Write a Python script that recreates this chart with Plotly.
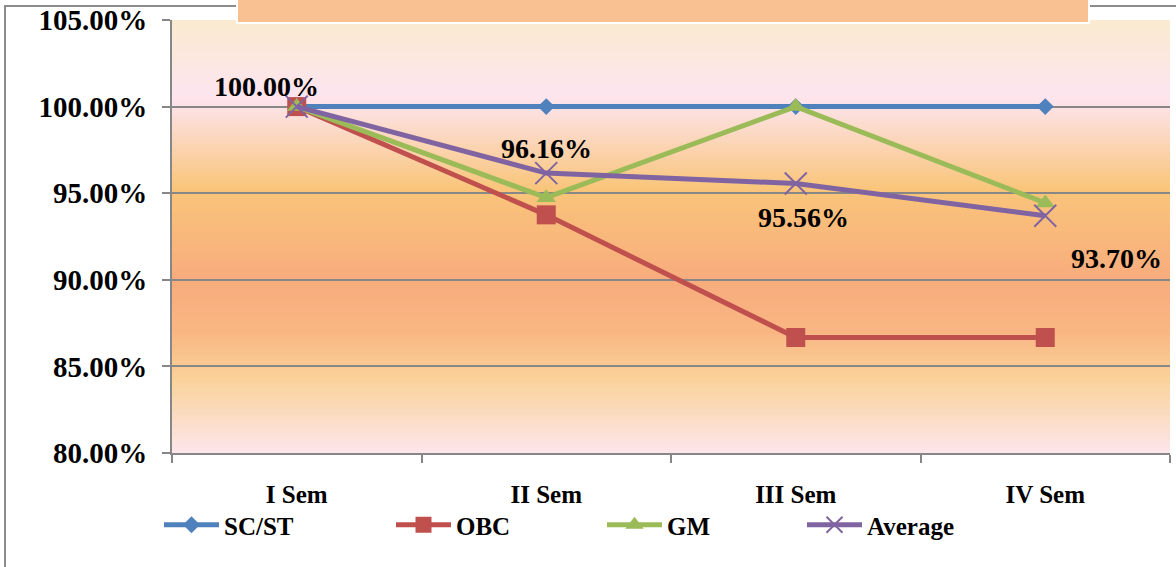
import plotly.graph_objects as go

# ---------------- data ----------------
categories = ["I Sem", "II Sem", "III Sem", "IV Sem"]
sc_st = [100.00, 100.00, 100.00, 100.00]
obc = [100.00, 93.75, 86.67, 86.67]
gm = [100.00, 94.74, 100.00, 94.44]
average = [100.00, 96.16, 95.56, 93.70]
y_ticks = [80, 85, 90, 95, 100, 105]
y_tick_labels = ["80.00%", "85.00%", "90.00%", "95.00%", "100.00%", "105.00%"]

# ---------------- style ----------------
FONT = "Liberation Serif"
GRID = "#878787"
W, H = 1176, 567
L, R, T, B = 172, 6, 20, 114
PW, PH = W - L - R, H - T - B


def px_x(px):
    return (px - L) / PW


def px_y(py):
    return (H - B - py) / PH


series = [
    ("SC/ST", sc_st, "#4F81BD", dict(symbol="diamond", size=13)),
    ("OBC", obc, "#C0504D", dict(symbol="square", size=19)),
    ("GM", gm, "#9BBB59", dict(symbol="triangle-up", size=17)),
    ("Average", average, "#8064A2", dict(symbol="x-thin", size=22,
                                          line=dict(width=2, color="#8064A2"))),
]
legend_x_px = [165, 397, 608, 808]

fig = go.Figure()
for i, (name, vals, color, mk) in enumerate(series):
    mk = dict(mk)
    mk["color"] = color
    fig.add_trace(go.Scatter(
        x=categories, y=vals, name=name, mode="lines+markers",
        line=dict(color=color, width=5), marker=mk,
        legend="legend" if i == 0 else "legend%d" % (i + 1),
    ))

# data labels for the Average series
label_shift = [(-30, 20), (0, 25), (8, -34), (71, -43)]
for c, v, (dx, dy) in zip(categories, average, label_shift):
    fig.add_annotation(x=c, y=v, text="%.2f%%" % v, showarrow=False,
                       xanchor="center", yanchor="middle", xshift=dx, yshift=dy,
                       font=dict(family=FONT, size=28, color="black", weight="bold"))

# gradient background bands
stops = [
    (0.00, (0xFA, 0xEA, 0xCF)),
    (0.17, (0xFD, 0xE5, 0xEF)),
    (0.20, (0xFD, 0xE2, 0xE6)),
    (0.39, (0xF9, 0xC5, 0x7A)),
    (0.60, (0xF8, 0xAC, 0x7D)),
    (0.72, (0xF9, 0xB6, 0x83)),
    (0.83, (0xFA, 0xD2, 0x9A)),
    (1.00, (0xFD, 0xE6, 0xEC)),
]


def color_at(t):
    for (t0, c0), (t1, c1) in zip(stops[:-1], stops[1:]):
        if t0 <= t <= t1:
            f = (t - t0) / (t1 - t0) if t1 > t0 else 0
            return "rgb(%d,%d,%d)" % tuple(round(a + (b - a) * f) for a, b in zip(c0, c1))
    return "rgb(%d,%d,%d)" % stops[-1][1]


N = 160
shapes = []
for i in range(N):
    t = (i + 0.5) / N
    shapes.append(dict(type="rect", xref="paper", yref="paper", layer="below",
                       x0=0, x1=1, y0=1 - (i + 1) / N - 0.002, y1=1 - i / N,
                       fillcolor=color_at(t), line=dict(width=0)))

# outer chart frame (left and top edges visible, the rest runs off the page)
shapes.append(dict(type="rect", xref="paper", yref="paper", layer="above",
                   x0=px_x(5), x1=px_x(1200), y0=px_y(600), y1=px_y(6),
                   fillcolor="rgba(0,0,0,0)", line=dict(color="#8C8C8C", width=2)))
# orange title box cut at the top
shapes.append(dict(type="rect", xref="paper", yref="paper", layer="above",
                   x0=px_x(237), x1=px_x(1089), y0=px_y(23), y1=px_y(-3),
                   fillcolor="#F9C191", line=dict(color="white", width=2)))

fig.update_layout(shapes=shapes)

legend_common = dict(orientation="h", xanchor="left", yanchor="middle",
                     y=px_y(525), bgcolor="rgba(0,0,0,0)", itemwidth=55,
                     font=dict(family=FONT, size=25, color="black", weight="bold"))
legends = {}
for i, xp in enumerate(legend_x_px):
    key = "legend" if i == 0 else "legend%d" % (i + 1)
    legends[key] = dict(legend_common, x=px_x(xp - 6))

fig.update_layout(
    width=W, height=H,
    margin=dict(l=L, r=R, t=T, b=B, autoexpand=False),
    paper_bgcolor="white", plot_bgcolor="white",
    showlegend=True,
    **legends,
)

fig.update_xaxes(
    type="category", range=[-0.5, 3.5], tickson="boundaries",
    ticks="outside", ticklen=8, tickwidth=2, tickcolor=GRID,
    showgrid=False, showline=True, linecolor=GRID, linewidth=2,
    ticklabelstandoff=18,
    tickfont=dict(family=FONT, size=25, color="black", weight="bold"),
)
fig.update_yaxes(
    range=[80, 105], tickvals=y_ticks, ticktext=y_tick_labels,
    ticks="outside", ticklen=8, tickwidth=2, tickcolor=GRID,
    showgrid=True, gridcolor=GRID, gridwidth=1.5, zeroline=False,
    showline=True, linecolor=GRID, linewidth=2,
    ticklabelstandoff=9,
    tickfont=dict(family=FONT, size=29, color="black", weight="bold"),
)

fig.write_html("out.html", config={"displayModeBar": False},
               post_script="document.body.style.margin='0';document.body.style.overflow='hidden';")
